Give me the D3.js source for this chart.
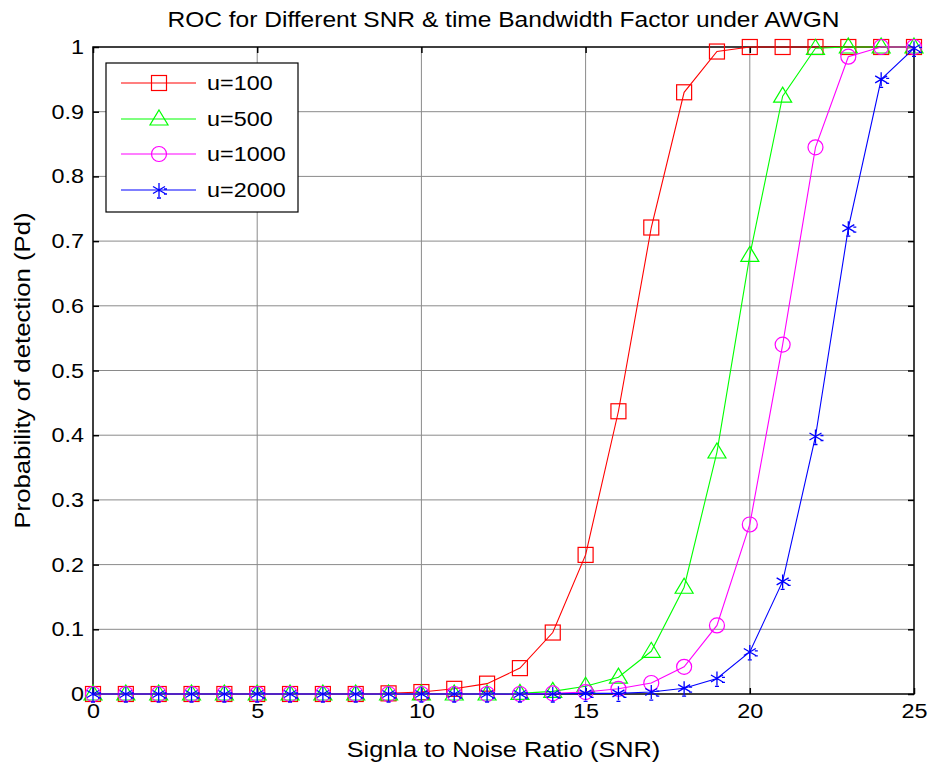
<!DOCTYPE html>
<html><head><meta charset="utf-8">
<script src="https://cdn.jsdelivr.net/npm/d3@7"></script>
<style>body{margin:0;background:#fff}svg{display:block}text{font-family:"Liberation Sans",Arial,sans-serif}</style>
</head><body>
<svg id="c" width="928" height="765"></svg>
<script>
const snr = d3.range(0, 26);
const u100  = [0,0,0,0,0,0,0,0,0,0.001,0.003,0.008,0.016,0.04,0.095,0.215,0.437,0.721,0.93,0.993,1,1,1,1,1,1];
const u500  = [0,0,0,0,0,0,0,0,0,0,0,0,0,0.001,0.004,0.012,0.026,0.066,0.165,0.374,0.678,0.924,0.998,1,1,1];
const u1000 = [0,0,0,0,0,0,0,0,0,0,0,0,0,0,0.001,0.003,0.008,0.017,0.042,0.106,0.262,0.54,0.845,0.985,1,1];
const u2000 = [0,0,0,0,0,0,0,0,0,0,0,0,0,0,0,0.001,0.001,0.003,0.009,0.024,0.065,0.174,0.398,0.72,0.95,0.998];
const seriesNames = ["u=100","u=500","u=1000","u=2000"];
const seriesColors = ["#ff0000","#00ff00","#ff00ff","#0000ff"];
const seriesMarkers = ["square","triangle","circle","star"];
const xTicks = [0,5,10,15,20,25];
const yTicks = [0,0.1,0.2,0.3,0.4,0.5,0.6,0.7,0.8,0.9,1];

const svg = d3.select("#c");
const L=93, R=914, T=47, B=694;
const x = d3.scaleLinear().domain([0,25]).range([L,R]);
const y = d3.scaleLinear().domain([0,1]).range([B,T]);

function stretch(sel, f){
  sel.each(function(){
    const w = this.getComputedTextLength();
    this.setAttribute("textLength", w*f);
    this.setAttribute("lengthAdjust","spacingAndGlyphs");
  });
}

// grid
const g = svg.append("g");
g.selectAll(".vg").data(xTicks.slice(1,-1)).join("line")
  .attr("x1",d=>x(d)).attr("x2",d=>x(d)).attr("y1",T).attr("y2",B)
  .attr("stroke","#8a8a8a").attr("stroke-width",1);
g.selectAll(".hg").data(yTicks.slice(1,-1)).join("line")
  .attr("y1",d=>y(d)).attr("y2",d=>y(d)).attr("x1",L).attr("x2",R)
  .attr("stroke","#8a8a8a").attr("stroke-width",1);

// axes
const tl = 6;
const xb = svg.append("g").attr("transform",`translate(0,${B})`).call(d3.axisBottom(x).tickValues(xTicks).tickSize(-tl).tickPadding(9).tickFormat(d3.format("d")));
const xt = svg.append("g").attr("transform",`translate(0,${T})`).call(d3.axisTop(x).tickValues(xTicks).tickSize(-tl).tickFormat(""));
const yl = svg.append("g").attr("transform",`translate(${L},0)`).call(d3.axisLeft(y).tickValues(yTicks).tickSize(-tl).tickPadding(9).tickFormat(d=>d===0||d===1?d3.format("d")(d):d3.format(".1f")(d)));
const yr = svg.append("g").attr("transform",`translate(${R},0)`).call(d3.axisRight(y).tickValues(yTicks).tickSize(-tl).tickFormat(""));
[xb,xt,yl,yr].forEach(a=>{
  a.select(".domain").remove();
  a.selectAll(".tick line").attr("stroke","#000").attr("stroke-width",1.5);
  a.selectAll("text").attr("fill","#000").style("font-size","20.5px");
});
stretch(xb.selectAll("text"),1.14);
stretch(yl.selectAll("text"),1.14);

svg.append("rect").attr("x",L).attr("y",T).attr("width",R-L).attr("height",B-T)
  .attr("fill","none").attr("stroke","#000").attr("stroke-width",1.5);

function drawMarker(sel, type, color){
  if(type==="square"){
    sel.append("rect").attr("x",-7.5).attr("y",-7.5).attr("width",15).attr("height",15)
      .attr("fill","none").attr("stroke",color).attr("stroke-width",1.2);
  } else if(type==="triangle"){
    sel.append("path").attr("d","M0,-9 L9,6 L-9,6 Z").attr("fill","none").attr("stroke",color).attr("stroke-width",1.2);
  } else if(type==="circle"){
    sel.append("circle").attr("r",7.5).attr("fill","none").attr("stroke",color).attr("stroke-width",1.2);
  } else {
    sel.append("path").attr("d","M0,-7 L0,7 M-6,-3.5 L6,3.5 M-6,3.5 L6,-3.5 M-2,8 L2,8 M5,-1 L8,-1 M5,4 L8,4")
      .attr("fill","none").attr("stroke",color).attr("stroke-width",1.3);
  }
}

const allSeries = [u100,u500,u1000,u2000];
const line = d3.line().x((d,i)=>x(snr[i])).y(d=>y(d));
allSeries.forEach((vals,si)=>{
  const sg = svg.append("g");
  sg.append("path").datum(vals).attr("d",line).attr("fill","none")
    .attr("stroke",seriesColors[si]).attr("stroke-width",1.1);
  vals.forEach((v,i)=>{
    const m = sg.append("g").attr("transform",`translate(${x(snr[i])},${y(v)})`);
    drawMarker(m, seriesMarkers[si], seriesColors[si]);
  });
});

// legend
const lg = svg.append("g");
lg.append("rect").attr("x",106).attr("y",63).attr("width",192).attr("height",149)
  .attr("fill","#fff").attr("stroke","#000").attr("stroke-width",1.2);
const rowY = [83,119,154,190];
seriesNames.forEach((n,i)=>{
  lg.append("line").attr("x1",121).attr("x2",196).attr("y1",rowY[i]).attr("y2",rowY[i])
    .attr("stroke",seriesColors[i]).attr("stroke-width",1.1);
  const m = lg.append("g").attr("transform",`translate(159,${rowY[i]})`);
  drawMarker(m, seriesMarkers[i], seriesColors[i]);
  const t = lg.append("text").attr("x",207).attr("y",rowY[i]).attr("dy","0.36em")
    .style("font-size","20.5px").attr("fill","#000").text(n);
  stretch(t,1.14);
});

// titles
const tt = svg.append("text").attr("x",(L+R)/2).attr("y",27).attr("text-anchor","middle")
  .style("font-size","22px").text("ROC for Different SNR & time Bandwidth Factor under AWGN");
stretch(tt,1.115);
const xl = svg.append("text").attr("x",(L+R)/2).attr("y",757).attr("text-anchor","middle")
  .style("font-size","22px").text("Signla to Noise Ratio (SNR)");
stretch(xl,1.15);
const ylab = svg.append("text").attr("transform",`translate(30,${(T+B)/2}) rotate(-90)`).attr("text-anchor","middle")
  .style("font-size","22px").text("Probability of detection (Pd)");
stretch(ylab,1.17);
</script>
</body></html>
